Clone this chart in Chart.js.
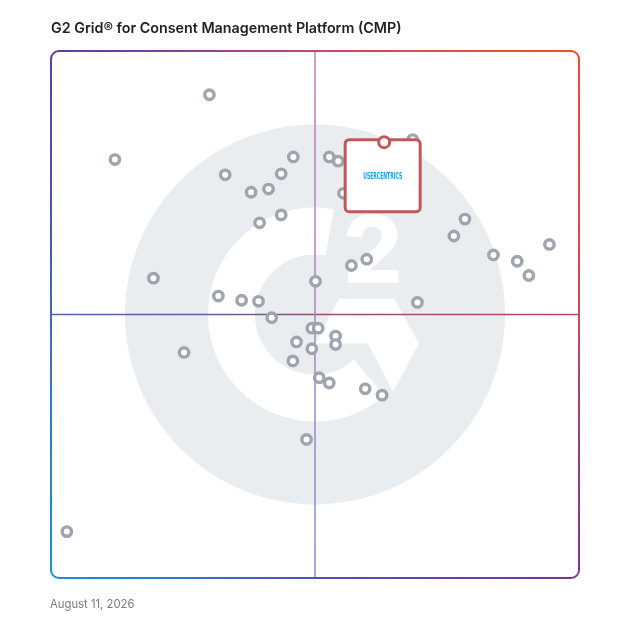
<!DOCTYPE html>
<html>
<head>
<meta charset="utf-8">
<script src="https://cdn.jsdelivr.net/npm/chart.js@4.4.1/dist/chart.umd.min.js"></script>
<style>
  body { margin: 0; background: #fff; }
  #wrap { position: relative; width: 628px; height: 628px; }
  #title { position: absolute; left: 51px; top: 19px; font: 600 14.3px Inter, "Noto Sans", sans-serif; color: #222; white-space: nowrap; }
  #date { position: absolute; left: 50px; top: 597px; font: 11.3px Inter, "Noto Sans", sans-serif; color: #7b7b7b; }
</style>
</head>
<body>
<div id="wrap">
  <canvas id="grid" width="628" height="628"></canvas>
  <div id="title">G2 Grid® for Consent Management Platform (CMP)</div>
  <div id="date">August 11, 2026</div>
</div>
<script>
// G2 grid: x = satisfaction, y = market presence (0..100, quadrant split at 50)
const satisfaction = [30.0, 12.1, 33.0, 37.9, 41.2, 43.6, 45.9, 39.5, 43.6, 19.4,
  31.7, 36.1, 39.3, 41.8, 50.1, 25.2, 49.4, 50.6, 46.5, 49.4,
  53.9, 53.9, 45.8, 50.8, 52.7, 59.5, 62.7, 48.4, 3.0, 52.7,
  54.4, 55.4, 68.5, 56.9, 59.8, 69.4, 76.3, 78.4, 83.8, 88.3,
  90.5, 94.4];
const marketPresence = [91.7, 79.4, 76.5, 73.2, 73.8, 76.7, 79.9, 67.4, 68.9, 56.9,
  53.5, 52.7, 52.5, 49.4, 56.3, 42.8, 47.4, 47.4, 44.8, 43.5,
  45.9, 44.3, 41.2, 38.0, 37.0, 35.9, 34.7, 26.3, 8.8, 79.9,
  79.1, 73.0, 83.2, 59.3, 60.5, 52.3, 64.9, 68.1, 61.3, 60.1,
  57.4, 63.3];

// highlighted vendor
const highlightName = 'USERCENTRICS';
const highlightX = [63.1];
const highlightY = [82.7];

const toPoints = (xs, ys) => xs.map((x, i) => ({ x: x, y: ys[i] }));

// watermark, frame and quadrant lines behind the dots
const g2Backdrop = {
  id: 'g2Backdrop',
  beforeDatasetsDraw(chart) {
    const { ctx, chartArea: a, scales: { x, y } } = chart;
    const cx = x.getPixelForValue(50), cy = y.getPixelForValue(50);
    ctx.save();

    // G2 logo watermark
    ctx.fillStyle = '#eaedf0';
    ctx.beginPath();
    ctx.arc(cx, cy, 190, 0, Math.PI * 2);
    ctx.fill();
    ctx.strokeStyle = '#fff';
    ctx.lineWidth = 47;
    ctx.beginPath();
    ctx.arc(cx, cy, 83.5, Math.PI * 0.275, Math.PI * 1.556);
    ctx.stroke();
    ctx.fillStyle = '#fff';
    ctx.beginPath();
    [[24, -16], [79, -16], [104, 29], [78, 77], [53, 29], [0, 29]].forEach((p, i) => {
      if (i === 0) ctx.moveTo(cx + p[0], cy + p[1]); else ctx.lineTo(cx + p[0], cy + p[1]);
    });
    ctx.closePath();
    ctx.fill();
    ctx.font = '800 94px Inter, "DejaVu Sans", sans-serif';
    ctx.textAlign = 'center';
    ctx.textBaseline = 'alphabetic';
    ctx.fillText('2', cx + 58, cy - 32);

    // quadrant lines
    ctx.lineWidth = 1.5;
    let g = ctx.createLinearGradient(a.left, 0, a.right, 0);
    g.addColorStop(0, '#4c62ac');
    g.addColorStop(1, '#c6455a');
    ctx.strokeStyle = g;
    ctx.beginPath();
    ctx.moveTo(a.left, cy);
    ctx.lineTo(a.right, cy);
    ctx.stroke();
    g = ctx.createLinearGradient(0, a.top, 0, a.bottom);
    g.addColorStop(0, '#c47fae');
    g.addColorStop(1, '#8a8bcf');
    ctx.strokeStyle = g;
    ctx.beginPath();
    ctx.moveTo(cx, a.top);
    ctx.lineTo(cx, a.bottom);
    ctx.stroke();

    // frame
    const fc = ctx.createConicGradient(-Math.PI * 0.75, (a.left + a.right) / 2, (a.top + a.bottom) / 2);
    fc.addColorStop(0, '#5a3ea6');
    fc.addColorStop(0.125, '#c04a78');
    fc.addColorStop(0.25, '#f24e2c');
    fc.addColorStop(0.375, '#c8485e');
    fc.addColorStop(0.5, '#7d3592');
    fc.addColorStop(0.625, '#5050b0');
    fc.addColorStop(0.75, '#1c90d2');
    fc.addColorStop(0.875, '#3f6ab8');
    fc.addColorStop(1, '#5a3ea6');
    ctx.strokeStyle = fc;
    ctx.lineWidth = 2;
    ctx.beginPath();
    ctx.roundRect(a.left, a.top, a.right - a.left, a.bottom - a.top, 8);
    ctx.stroke();
    ctx.restore();
  },
  // logo card drawn above the grey dots, below the highlighted dot
  afterDatasetDraw(chart, args) {
    if (args.index !== 1) return;
    const { ctx } = chart;
    const pt = chart.getDatasetMeta(0).data[0];
    const bx = pt.x - 1.5, by = pt.y + 34;
    ctx.save();
    ctx.fillStyle = '#fff';
    ctx.strokeStyle = '#c0585a';
    ctx.lineWidth = 3;
    ctx.beginPath();
    ctx.roundRect(bx - 37.5, pt.y - 2.5, 75, 72, 4);
    ctx.fill();
    ctx.stroke();
    ctx.fillStyle = '#109ff0';
    ctx.font = 'bold 9px "Liberation Sans Narrow", "DejaVu Sans Condensed", sans-serif';
    ctx.textAlign = 'center';
    ctx.textBaseline = 'middle';
    ctx.fillText(highlightName, bx, by, 39);
    ctx.restore();
  }
};

new Chart(document.getElementById('grid'), {
  type: 'scatter',
  data: {
    datasets: [
      {
        label: 'Usercentrics',
        data: toPoints(highlightX, highlightY),
        pointRadius: 5.5,
        pointBorderWidth: 3,
        borderColor: '#c0585a',
        backgroundColor: '#fff'
      },
      {
        label: 'Other vendors',
        data: toPoints(satisfaction, marketPresence),
        pointRadius: 4.7,
        pointBorderWidth: 3.4,
        borderColor: '#a0a4af',
        backgroundColor: '#fff'
      }
    ]
  },
  options: {
    responsive: false,
    animation: false,
    clip: false,
    layout: { padding: { left: 51, right: 49, top: 51, bottom: 50 } },
    plugins: { legend: { display: false }, tooltip: { enabled: false } },
    scales: {
      x: { display: false, min: 0, max: 100 },
      y: { display: false, min: 0, max: 100 }
    }
  },
  plugins: [g2Backdrop]
});
</script>
</body>
</html>
